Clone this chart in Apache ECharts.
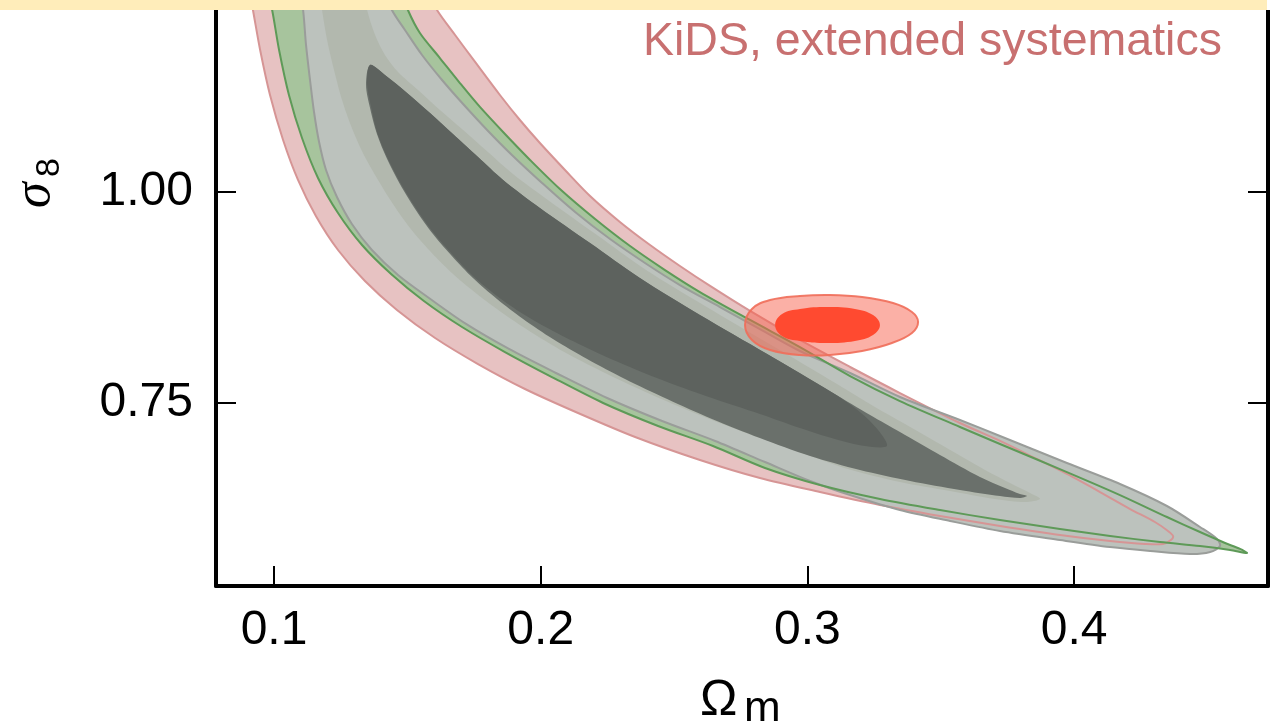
<!DOCTYPE html>
<html>
<head>
<meta charset="utf-8">
<script src="https://cdn.jsdelivr.net/npm/echarts@6/dist/echarts.min.js"></script>
<style>
  html, body { margin: 0; padding: 0; background: #ffffff; }
  #chart { width: 1281px; height: 721px; }
</style>
</head>
<body>
<div id="chart"></div>
<script>
// Tick positions
const xTicks = [0.1, 0.2, 0.3, 0.4];
const yTicks = [0.75, 1.00];

// Contours in (Omega_m, sigma_8)
const kidsExtendedOuter = [
  [0.0910,1.2335],[0.0921,1.2157],[0.0948,1.1682],[0.0985,1.1148],[0.1034,1.0614],[0.1090,1.0140],
  [0.1157,0.9712],[0.1240,0.9308],[0.1341,0.8940],[0.1461,0.8596],[0.1604,0.8263],[0.1765,0.7954],
  [0.1941,0.7658],[0.2140,0.7373],[0.2354,0.7088],[0.2597,0.6815],[0.2822,0.6601],[0.3047,0.6435],
  [0.3272,0.6281],[0.3497,0.6150],[0.3722,0.6032],[0.3947,0.5925],[0.4135,0.5853],[0.4266,0.5818],
  [0.4333,0.5818],[0.4363,0.5865],[0.4371,0.5913],
  [0.4352,0.5972],[0.4303,0.6079],[0.4210,0.6233],[0.4097,0.6435],[0.3973,0.6649],[0.3846,0.6850],
  [0.3722,0.7041],[0.3572,0.7254],[0.3347,0.7610],[0.3160,0.7919],[0.2972,0.8240],[0.2785,0.8584],
  [0.2635,0.8881],[0.2522,0.9118],[0.2410,0.9367],[0.2297,0.9641],[0.2185,0.9949],[0.2091,1.0258],
  [0.1997,1.0578],[0.1922,1.0851],[0.1847,1.1148],[0.1754,1.1540],[0.1679,1.1860],[0.1611,1.2157],
  [0.1585,1.2335]
];

const greenOuter = [
  [0.0978,1.2335],[0.0993,1.2157],[0.1019,1.1682],[0.1056,1.1148],[0.1105,1.0637],[0.1165,1.0163],
  [0.1240,0.9747],[0.1330,0.9367],[0.1439,0.9023],[0.1562,0.8703],[0.1705,0.8394],[0.1866,0.8097],
  [0.2042,0.7800],[0.2234,0.7492],[0.2440,0.7219],[0.2646,0.6981],[0.2841,0.6720],[0.3047,0.6518],
  [0.3272,0.6352],[0.3497,0.6221],[0.3722,0.6103],[0.3947,0.5996],[0.4135,0.5913],[0.4322,0.5841],
  [0.4472,0.5794],[0.4585,0.5747],[0.4648,0.5711],
  [0.4622,0.5759],[0.4566,0.5830],[0.4472,0.5960],[0.4348,0.6138],[0.4172,0.6399],[0.3973,0.6672],
  [0.3722,0.7005],[0.3572,0.7207],[0.3347,0.7515],[0.3160,0.7812],[0.2972,0.8156],[0.2785,0.8477],
  [0.2597,0.8809],[0.2466,0.9070],[0.2335,0.9355],[0.2204,0.9676],[0.2072,1.0032],[0.1960,1.0377],
  [0.1866,1.0685],[0.1772,1.1006],[0.1697,1.1290],[0.1622,1.1587],[0.1547,1.1884],[0.1502,1.2157],
  [0.1484,1.2335]
];

const greyOuter = [
  [0.1097,1.2335],[0.1109,1.2157],[0.1120,1.1742],[0.1135,1.1326],[0.1150,1.0946],[0.1169,1.0590],
  [0.1195,1.0258],[0.1236,0.9937],[0.1292,0.9617],[0.1367,0.9308],[0.1465,0.9011],[0.1581,0.8738],
  [0.1720,0.8430],[0.1881,0.8133],[0.2057,0.7848],[0.2249,0.7551],[0.2455,0.7278],[0.2654,0.7041],
  [0.2841,0.6791],[0.3010,0.6566],[0.3160,0.6399],[0.3347,0.6221],[0.3535,0.6091],[0.3722,0.5972],
  [0.3947,0.5865],[0.4135,0.5782],[0.4285,0.5735],[0.4435,0.5699],[0.4510,0.5723],[0.4547,0.5794],
  [0.4536,0.5877],[0.4472,0.6020],[0.4348,0.6269],[0.4172,0.6530],[0.3973,0.6779],[0.3722,0.7100],
  [0.3572,0.7290],[0.3347,0.7563],[0.3160,0.7848],[0.2972,0.8109],[0.2822,0.8370],[0.2672,0.8631],
  [0.2522,0.8892],[0.2391,0.9154],[0.2260,0.9438],[0.2129,0.9759],[0.2005,1.0104],[0.1892,1.0436],
  [0.1799,1.0733],[0.1709,1.1041],[0.1630,1.1326],[0.1555,1.1623],[0.1491,1.1920],[0.1442,1.2157],
  [0.1424,1.2335]
];

const greyMid = [
  [0.1172,1.2335],[0.1180,1.2157],[0.1199,1.1801],[0.1225,1.1445],[0.1255,1.1089],[0.1292,1.0756],
  [0.1337,1.0436],[0.1390,1.0140],[0.1446,0.9854],[0.1510,0.9569],[0.1585,0.9296],[0.1667,0.9035],
  [0.1761,0.8786],[0.1862,0.8548],[0.1975,0.8311],[0.2102,0.8073],[0.2249,0.7836],[0.2410,0.7599],
  [0.2586,0.7361],[0.2770,0.7136],[0.2961,0.6922],[0.3152,0.6708],[0.3347,0.6554],[0.3535,0.6447],
  [0.3703,0.6352],[0.3816,0.6316],[0.3872,0.6352],
  [0.3835,0.6423],[0.3767,0.6530],[0.3666,0.6696],[0.3516,0.6969],[0.3366,0.7242],[0.3253,0.7444],
  [0.3111,0.7717],[0.2864,0.8180],[0.2616,0.8643],[0.2395,0.9070],[0.2211,0.9486],[0.2027,0.9902],
  [0.1896,1.0210],[0.1802,1.0471],[0.1709,1.0733],[0.1622,1.0970],[0.1540,1.1207],[0.1465,1.1421],
  [0.1416,1.1623],[0.1379,1.1860],[0.1349,1.2157],[0.1341,1.2335]
];

const coreOuter = [
  [0.1360,1.1504],[0.1416,1.1385],[0.1499,1.1172],[0.1585,1.0934],[0.1671,1.0685],[0.1765,1.0412],
  [0.1859,1.0140],[0.1997,0.9807],[0.2185,0.9391],[0.2372,0.8975],[0.2597,0.8536],[0.2849,0.8073],
  [0.3096,0.7610],[0.3235,0.7349],[0.3347,0.7147],[0.3497,0.6874],[0.3647,0.6613],[0.3741,0.6483],
  [0.3797,0.6411],[0.3823,0.6387],
  [0.3797,0.6364],[0.3722,0.6387],[0.3572,0.6459],[0.3385,0.6566],[0.3197,0.6696],[0.3010,0.6862],
  [0.2822,0.7076],[0.2642,0.7302],[0.2474,0.7539],[0.2316,0.7777],[0.2174,0.8014],[0.2046,0.8251],
  [0.1934,0.8489],[0.1836,0.8726],[0.1746,0.8975],[0.1667,0.9237],[0.1596,0.9498],[0.1529,0.9795],
  [0.1472,1.0091],[0.1424,1.0388],[0.1386,1.0685],[0.1360,1.0994],[0.1345,1.1267]
];

const coreInner = [
  [0.1360,1.1504],[0.1416,1.1385],[0.1499,1.1172],[0.1585,1.0934],[0.1671,1.0685],[0.1765,1.0412],
  [0.1859,1.0140],[0.1997,0.9807],[0.2185,0.9391],[0.2372,0.8975],[0.2597,0.8536],[0.2849,0.8073],
  [0.3096,0.7610],[0.3197,0.7385],[0.3265,0.7171],[0.3298,0.6981],
  [0.3216,0.6981],[0.3103,0.7064],[0.2972,0.7195],[0.2822,0.7361],[0.2642,0.7551],[0.2474,0.7741],
  [0.2316,0.7943],[0.2174,0.8145],[0.2046,0.8346],[0.1934,0.8548],[0.1836,0.8762],[0.1746,0.8999],
  [0.1667,0.9260],[0.1596,0.9522],[0.1529,0.9819],[0.1472,1.0115],[0.1424,1.0412],[0.1386,1.0709],
  [0.1364,1.1006],[0.1349,1.1279]
];

const planckOuter = [
  [0.2766,0.8418],[0.2792,0.8608],[0.2860,0.8714],[0.2972,0.8762],[0.3085,0.8774],[0.3205,0.8750],
  [0.3321,0.8678],[0.3392,0.8572],[0.3415,0.8453],[0.3392,0.8323],[0.3317,0.8204],[0.3205,0.8109],
  [0.3085,0.8061],[0.2972,0.8061],[0.2860,0.8121],[0.2792,0.8240]
];

const planckInner = [
  [0.2879,0.8418],[0.2905,0.8548],[0.2972,0.8608],[0.3073,0.8631],[0.3178,0.8608],[0.3246,0.8536],
  [0.3272,0.8418],[0.3246,0.8299],[0.3178,0.8228],[0.3073,0.8204],[0.2972,0.8228],[0.2905,0.8287]
];

const FONT = '"Liberation Sans", Arial, sans-serif';

function contour(name, pts, style, z, smooth) {
  return {
    type: 'custom',
    name: name,
    coordinateSystem: 'cartesian2d',
    xAxisIndex: 0,
    yAxisIndex: 0,
    clip: true,
    silent: true,
    z: z,
    data: pts,
    encode: { x: 0, y: 1 },
    renderItem: function (params, api) {
      if (params.dataIndex !== 0) return null;
      const points = pts.map(function (p) { return api.coord(p); });
      return {
        type: 'polygon',
        shape: { points: points, smooth: smooth == null ? 0.3 : smooth },
        style: style
      };
    }
  };
}

const chart = echarts.init(document.getElementById('chart'), null, { renderer: 'canvas' });

const axisCommon = {
  type: 'value',
  splitLine: { show: false },
  axisLine: { show: true, onZero: false, lineStyle: { color: '#000', width: 4 } },
  axisTick: { show: true, inside: true, length: 20, lineStyle: { color: '#000', width: 2 } }
};

chart.setOption({
  animation: false,
  backgroundColor: '#ffffff',
  grid: { left: 216, right: 13, top: 0, bottom: 135, containLabel: false, outerBoundsMode: 'none' },
  xAxis: Object.assign({}, axisCommon, {
    min: 0.07825, max: 0.4727,
    axisTick: Object.assign({}, axisCommon.axisTick, { customValues: xTicks }),
    axisLabel: {
      customValues: xTicks, margin: 21, color: '#000', fontSize: 48, fontFamily: FONT,
      formatter: function (v) { return v.toFixed(1); }
    }
  }),
  yAxis: [
    Object.assign({}, axisCommon, {
      position: 'left',
      min: 0.53193, max: 1.22756,
      axisTick: Object.assign({}, axisCommon.axisTick, { customValues: yTicks }),
      axisLabel: {
        customValues: yTicks, margin: 23, color: '#000', fontSize: 48, fontFamily: FONT,
        formatter: function (v) { return v.toFixed(2); }
      }
    }),
    Object.assign({}, axisCommon, {
      position: 'right',
      min: 0.53193, max: 1.22756,
      axisTick: Object.assign({}, axisCommon.axisTick, { customValues: yTicks }),
      axisLabel: { show: false }
    })
  ],
  series: [
    contour('KiDS, extended systematics', kidsExtendedOuter, { fill: '#e7c2c2' }, 1),
    contour('green', greenOuter, { fill: '#a7c49d' }, 2),
    contour('grey', greyOuter, { fill: '#bcc2bd' }, 3),
    contour('grey mid', greyMid, { fill: '#b2b8ae' }, 4),
    contour('core outer', coreOuter, { fill: '#6a706b' }, 5),
    contour('core inner', coreInner, { fill: '#5d625e' }, 6),
    contour('KiDS, extended systematics edge', kidsExtendedOuter, { fill: 'none', stroke: '#d69595', lineWidth: 2 }, 7),
    contour('grey edge', greyOuter, { fill: 'none', stroke: '#9a9d9a', lineWidth: 2 }, 8),
    contour('green edge', greenOuter, { fill: 'none', stroke: '#5e9a58', lineWidth: 2 }, 9),
    contour('Planck outer', planckOuter, { fill: 'rgba(247,97,77,0.5)', stroke: 'rgba(240,110,90,0.9)', lineWidth: 2 }, 10, 0.4),
    contour('Planck inner', planckInner, { fill: '#ff4a30' }, 11, 0.4)
  ],
  graphic: [
    { type: 'rect', z: 100, shape: { x: 0, y: 0, width: 1267, height: 10 }, style: { fill: '#ffedba' } },
    { type: 'rect', z: 100, shape: { x: 1267, y: 0, width: 14, height: 10 }, style: { fill: '#ffffff' } },
    { type: 'text', z: 100, x: 643, y: 42,
      style: { text: 'KiDS, extended systematics', font: '46.5px ' + FONT, fill: '#c87070',
               align: 'left', verticalAlign: 'middle', textAlign: 'left', textVerticalAlign: 'middle' } },
    { type: 'text', z: 100, x: 700, y: 701,
      style: { text: 'Ω', font: '50px ' + FONT, fill: '#000',
               align: 'left', verticalAlign: 'middle', textAlign: 'left', textVerticalAlign: 'middle' } },
    { type: 'text', z: 100, x: 744, y: 710,
      style: { text: 'm', font: '44px ' + FONT, fill: '#000',
               align: 'left', verticalAlign: 'middle', textAlign: 'left', textVerticalAlign: 'middle' } },
    { type: 'group', z: 100, x: 53, y: 208, rotation: Math.PI / 2,
      children: [
        { type: 'text', x: 0, y: -18,
          style: { text: 'σ', font: 'italic 52px "Liberation Serif", serif', fill: '#000',
                   align: 'left', verticalAlign: 'middle', textAlign: 'left', textVerticalAlign: 'middle' } },
        { type: 'text', x: 31, y: -3,
          style: { text: '8', font: '34px ' + FONT, fill: '#000',
                   align: 'left', verticalAlign: 'middle', textAlign: 'left', textVerticalAlign: 'middle' } }
      ] }
  ]
});
</script>
</body>
</html>
